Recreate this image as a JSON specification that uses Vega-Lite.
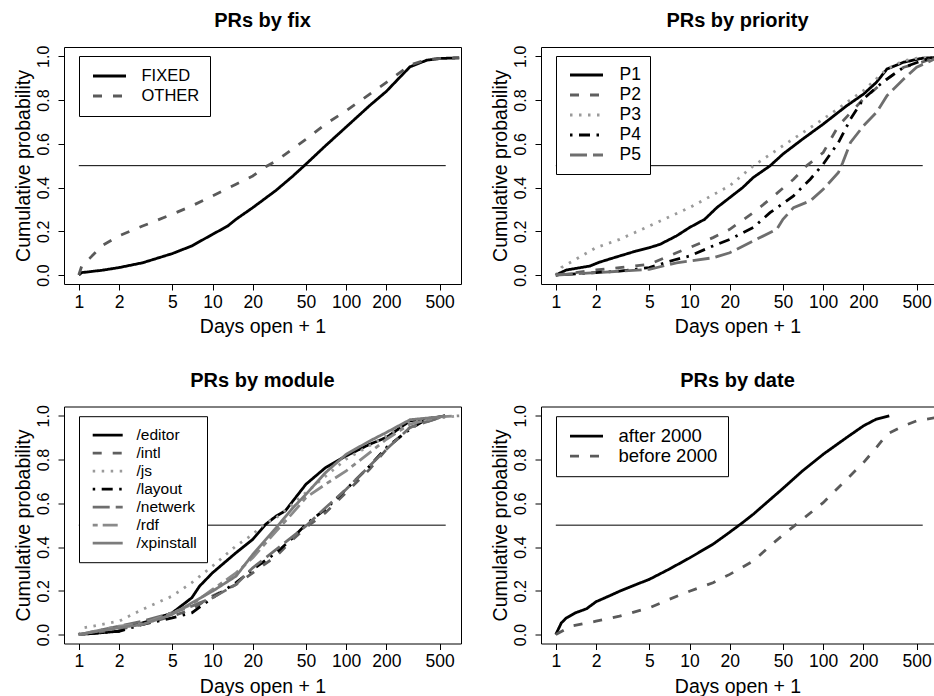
{
  "$schema": "https://vega.github.io/schema/vega-lite/v6.json",
  "padding": {"left": 12, "top": 10, "right": 0, "bottom": 0},
  "background": "white",
  "columns": 2,
  "spacing": {"row": 122.5, "column": 80},
  "bounds": "flush",
  "resolve": {
    "scale": {"x": "independent", "y": "independent", "color": "independent", "strokeDash": "independent"},
    "axis": {"x": "independent", "y": "independent"},
    "legend": {"color": "independent", "strokeDash": "independent"}
  },
  "datasets": {
    "fix": [
      {"g":"FIXED","d":1,"p":0},{"g":"FIXED","d":1.05,"p":0.011},{"g":"FIXED","d":1.5,"p":0.022},{"g":"FIXED","d":2,"p":0.034},{"g":"FIXED","d":3,"p":0.056},{"g":"FIXED","d":5,"p":0.098},{"g":"FIXED","d":7,"p":0.133},{"g":"FIXED","d":10,"p":0.186},{"g":"FIXED","d":13,"p":0.224},{"g":"FIXED","d":15,"p":0.255},{"g":"FIXED","d":20,"p":0.308},{"g":"FIXED","d":30,"p":0.388},{"g":"FIXED","d":40,"p":0.453},{"g":"FIXED","d":50,"p":0.507},{"g":"FIXED","d":70,"p":0.591},{"g":"FIXED","d":100,"p":0.677},{"g":"FIXED","d":150,"p":0.775},{"g":"FIXED","d":200,"p":0.84},{"g":"FIXED","d":250,"p":0.902},{"g":"FIXED","d":300,"p":0.952},{"g":"FIXED","d":400,"p":0.982},{"g":"FIXED","d":500,"p":0.99},{"g":"FIXED","d":700,"p":0.993},
      {"g":"OTHER","d":1,"p":0},{"g":"OTHER","d":1.05,"p":0.04},{"g":"OTHER","d":1.2,"p":0.075},{"g":"OTHER","d":1.5,"p":0.135},{"g":"OTHER","d":2,"p":0.179},{"g":"OTHER","d":3,"p":0.224},{"g":"OTHER","d":5,"p":0.278},{"g":"OTHER","d":7,"p":0.316},{"g":"OTHER","d":10,"p":0.362},{"g":"OTHER","d":15,"p":0.415},{"g":"OTHER","d":20,"p":0.453},{"g":"OTHER","d":25,"p":0.495},{"g":"OTHER","d":30,"p":0.522},{"g":"OTHER","d":50,"p":0.621},{"g":"OTHER","d":70,"p":0.69},{"g":"OTHER","d":100,"p":0.751},{"g":"OTHER","d":150,"p":0.827},{"g":"OTHER","d":200,"p":0.881},{"g":"OTHER","d":300,"p":0.96},{"g":"OTHER","d":400,"p":0.985},{"g":"OTHER","d":500,"p":0.99},{"g":"OTHER","d":700,"p":0.993},
      {"g":"ref","d":1,"d2":555,"p":0.5}
    ],
    "priority": [
      {"g":"P1","d":1,"p":0},{"g":"P1","d":1.2,"p":0.023},{"g":"P1","d":1.8,"p":0.041},{"g":"P1","d":2.1,"p":0.058},{"g":"P1","d":3,"p":0.087},{"g":"P1","d":4,"p":0.11},{"g":"P1","d":5,"p":0.125},{"g":"P1","d":6,"p":0.14},{"g":"P1","d":8,"p":0.179},{"g":"P1","d":10,"p":0.217},{"g":"P1","d":13,"p":0.255},{"g":"P1","d":16,"p":0.308},{"g":"P1","d":20,"p":0.354},{"g":"P1","d":25,"p":0.4},{"g":"P1","d":30,"p":0.446},{"g":"P1","d":40,"p":0.499},{"g":"P1","d":50,"p":0.553},{"g":"P1","d":70,"p":0.621},{"g":"P1","d":100,"p":0.69},{"g":"P1","d":150,"p":0.774},{"g":"P1","d":200,"p":0.827},{"g":"P1","d":250,"p":0.881},{"g":"P1","d":300,"p":0.942},{"g":"P1","d":400,"p":0.973},{"g":"P1","d":550,"p":0.991},{"g":"P1","d":700,"p":0.995},
      {"g":"P2","d":1,"p":0},{"g":"P2","d":2,"p":0.023},{"g":"P2","d":3,"p":0.034},{"g":"P2","d":5,"p":0.049},{"g":"P2","d":8,"p":0.102},{"g":"P2","d":10,"p":0.125},{"g":"P2","d":15,"p":0.171},{"g":"P2","d":20,"p":0.209},{"g":"P2","d":30,"p":0.285},{"g":"P2","d":40,"p":0.347},{"g":"P2","d":60,"p":0.438},{"g":"P2","d":75,"p":0.499},{"g":"P2","d":100,"p":0.56},{"g":"P2","d":130,"p":0.682},{"g":"P2","d":170,"p":0.759},{"g":"P2","d":200,"p":0.805},{"g":"P2","d":300,"p":0.896},{"g":"P2","d":400,"p":0.95},{"g":"P2","d":500,"p":0.965},{"g":"P2","d":700,"p":0.995},
      {"g":"P3","d":1,"p":0},{"g":"P3","d":1.1,"p":0.034},{"g":"P3","d":2,"p":0.125},{"g":"P3","d":3,"p":0.163},{"g":"P3","d":5,"p":0.224},{"g":"P3","d":10,"p":0.308},{"g":"P3","d":20,"p":0.408},{"g":"P3","d":30,"p":0.499},{"g":"P3","d":50,"p":0.591},{"g":"P3","d":100,"p":0.713},{"g":"P3","d":200,"p":0.843},{"g":"P3","d":300,"p":0.942},{"g":"P3","d":400,"p":0.98},{"g":"P3","d":500,"p":0.991},{"g":"P3","d":700,"p":0.995},
      {"g":"P4","d":1,"p":0},{"g":"P4","d":2,"p":0.011},{"g":"P4","d":3,"p":0.018},{"g":"P4","d":5,"p":0.034},{"g":"P4","d":8,"p":0.072},{"g":"P4","d":10,"p":0.087},{"g":"P4","d":15,"p":0.133},{"g":"P4","d":20,"p":0.163},{"g":"P4","d":30,"p":0.217},{"g":"P4","d":40,"p":0.285},{"g":"P4","d":60,"p":0.362},{"g":"P4","d":80,"p":0.438},{"g":"P4","d":100,"p":0.507},{"g":"P4","d":130,"p":0.606},{"g":"P4","d":160,"p":0.713},{"g":"P4","d":200,"p":0.805},{"g":"P4","d":250,"p":0.858},{"g":"P4","d":300,"p":0.896},{"g":"P4","d":400,"p":0.95},{"g":"P4","d":600,"p":0.988},{"g":"P4","d":700,"p":0.995},
      {"g":"P5","d":1,"p":0},{"g":"P5","d":2,"p":0.011},{"g":"P5","d":5,"p":0.026},{"g":"P5","d":8,"p":0.056},{"g":"P5","d":10,"p":0.064},{"g":"P5","d":15,"p":0.079},{"g":"P5","d":20,"p":0.102},{"g":"P5","d":30,"p":0.156},{"g":"P5","d":45,"p":0.209},{"g":"P5","d":50,"p":0.255},{"g":"P5","d":60,"p":0.308},{"g":"P5","d":80,"p":0.339},{"g":"P5","d":100,"p":0.392},{"g":"P5","d":130,"p":0.469},{"g":"P5","d":140,"p":0.514},{"g":"P5","d":160,"p":0.606},{"g":"P5","d":200,"p":0.682},{"g":"P5","d":250,"p":0.743},{"g":"P5","d":300,"p":0.82},{"g":"P5","d":400,"p":0.896},{"g":"P5","d":500,"p":0.95},{"g":"P5","d":700,"p":0.991},
      {"g":"ref","d":1,"d2":555,"p":0.5}
    ],
    "module": [
      {"g":"/editor","d":1,"p":0},{"g":"/editor","d":2,"p":0.015},{"g":"/editor","d":2.2,"p":0.038},{"g":"/editor","d":3,"p":0.053},{"g":"/editor","d":5,"p":0.099},{"g":"/editor","d":7,"p":0.168},{"g":"/editor","d":8,"p":0.221},{"g":"/editor","d":10,"p":0.282},{"g":"/editor","d":15,"p":0.374},{"g":"/editor","d":20,"p":0.435},{"g":"/editor","d":25,"p":0.504},{"g":"/editor","d":30,"p":0.542},{"g":"/editor","d":35,"p":0.565},{"g":"/editor","d":40,"p":0.611},{"g":"/editor","d":50,"p":0.687},{"g":"/editor","d":70,"p":0.763},{"g":"/editor","d":100,"p":0.817},{"g":"/editor","d":150,"p":0.87},{"g":"/editor","d":200,"p":0.901},{"g":"/editor","d":300,"p":0.977},{"g":"/editor","d":500,"p":0.995},{"g":"/editor","d":550,"p":1},
      {"g":"/intl","d":1,"p":0},{"g":"/intl","d":2,"p":0.023},{"g":"/intl","d":3,"p":0.046},{"g":"/intl","d":5,"p":0.084},{"g":"/intl","d":7,"p":0.115},{"g":"/intl","d":10,"p":0.176},{"g":"/intl","d":15,"p":0.229},{"g":"/intl","d":20,"p":0.282},{"g":"/intl","d":30,"p":0.359},{"g":"/intl","d":40,"p":0.435},{"g":"/intl","d":50,"p":0.489},{"g":"/intl","d":70,"p":0.557},{"g":"/intl","d":100,"p":0.649},{"g":"/intl","d":150,"p":0.756},{"g":"/intl","d":200,"p":0.847},{"g":"/intl","d":300,"p":0.947},{"g":"/intl","d":500,"p":0.992},{"g":"/intl","d":550,"p":1},
      {"g":"/js","d":1,"p":0},{"g":"/js","d":1.1,"p":0.031},{"g":"/js","d":2,"p":0.061},{"g":"/js","d":3,"p":0.115},{"g":"/js","d":5,"p":0.176},{"g":"/js","d":7,"p":0.237},{"g":"/js","d":10,"p":0.313},{"g":"/js","d":15,"p":0.405},{"g":"/js","d":20,"p":0.458},{"g":"/js","d":25,"p":0.511},{"g":"/js","d":30,"p":0.534},{"g":"/js","d":50,"p":0.649},{"g":"/js","d":100,"p":0.802},{"g":"/js","d":200,"p":0.908},{"g":"/js","d":300,"p":0.977},{"g":"/js","d":700,"p":1},
      {"g":"/layout","d":1,"p":0},{"g":"/layout","d":2,"p":0.015},{"g":"/layout","d":3,"p":0.046},{"g":"/layout","d":5,"p":0.076},{"g":"/layout","d":7,"p":0.099},{"g":"/layout","d":10,"p":0.168},{"g":"/layout","d":15,"p":0.237},{"g":"/layout","d":20,"p":0.298},{"g":"/layout","d":30,"p":0.374},{"g":"/layout","d":40,"p":0.443},{"g":"/layout","d":50,"p":0.504},{"g":"/layout","d":70,"p":0.573},{"g":"/layout","d":100,"p":0.664},{"g":"/layout","d":150,"p":0.771},{"g":"/layout","d":200,"p":0.855},{"g":"/layout","d":250,"p":0.901},{"g":"/layout","d":300,"p":0.939},{"g":"/layout","d":400,"p":0.985},{"g":"/layout","d":550,"p":1},
      {"g":"/netwerk","d":1,"p":0},{"g":"/netwerk","d":2,"p":0.038},{"g":"/netwerk","d":3,"p":0.061},{"g":"/netwerk","d":5,"p":0.099},{"g":"/netwerk","d":7,"p":0.13},{"g":"/netwerk","d":10,"p":0.168},{"g":"/netwerk","d":15,"p":0.229},{"g":"/netwerk","d":20,"p":0.305},{"g":"/netwerk","d":30,"p":0.389},{"g":"/netwerk","d":50,"p":0.496},{"g":"/netwerk","d":70,"p":0.58},{"g":"/netwerk","d":100,"p":0.664},{"g":"/netwerk","d":150,"p":0.771},{"g":"/netwerk","d":200,"p":0.847},{"g":"/netwerk","d":300,"p":0.947},{"g":"/netwerk","d":500,"p":0.992},{"g":"/netwerk","d":550,"p":1},
      {"g":"/rdf","d":1,"p":0},{"g":"/rdf","d":2,"p":0.038},{"g":"/rdf","d":3,"p":0.05},{"g":"/rdf","d":5,"p":0.099},{"g":"/rdf","d":7,"p":0.137},{"g":"/rdf","d":10,"p":0.206},{"g":"/rdf","d":15,"p":0.282},{"g":"/rdf","d":20,"p":0.351},{"g":"/rdf","d":30,"p":0.473},{"g":"/rdf","d":40,"p":0.557},{"g":"/rdf","d":50,"p":0.626},{"g":"/rdf","d":70,"p":0.687},{"g":"/rdf","d":100,"p":0.748},{"g":"/rdf","d":150,"p":0.832},{"g":"/rdf","d":200,"p":0.893},{"g":"/rdf","d":300,"p":0.962},{"g":"/rdf","d":500,"p":0.995},{"g":"/rdf","d":700,"p":1},
      {"g":"/xpinstall","d":1,"p":0},{"g":"/xpinstall","d":2,"p":0.031},{"g":"/xpinstall","d":3,"p":0.046},{"g":"/xpinstall","d":5,"p":0.092},{"g":"/xpinstall","d":7,"p":0.145},{"g":"/xpinstall","d":10,"p":0.198},{"g":"/xpinstall","d":15,"p":0.267},{"g":"/xpinstall","d":20,"p":0.366},{"g":"/xpinstall","d":30,"p":0.489},{"g":"/xpinstall","d":40,"p":0.58},{"g":"/xpinstall","d":50,"p":0.641},{"g":"/xpinstall","d":70,"p":0.74},{"g":"/xpinstall","d":100,"p":0.824},{"g":"/xpinstall","d":150,"p":0.885},{"g":"/xpinstall","d":200,"p":0.924},{"g":"/xpinstall","d":300,"p":0.982},{"g":"/xpinstall","d":500,"p":0.995},{"g":"/xpinstall","d":550,"p":1},
      {"g":"ref","d":1,"d2":555,"p":0.5}
    ],
    "date": [
      {"g":"after 2000","d":1,"p":0},{"g":"after 2000","d":1.1,"p":0.053},{"g":"after 2000","d":1.2,"p":0.076},{"g":"after 2000","d":1.4,"p":0.099},{"g":"after 2000","d":1.7,"p":0.118},{"g":"after 2000","d":2,"p":0.15},{"g":"after 2000","d":2.5,"p":0.176},{"g":"after 2000","d":3,"p":0.198},{"g":"after 2000","d":4,"p":0.229},{"g":"after 2000","d":5,"p":0.252},{"g":"after 2000","d":7,"p":0.298},{"g":"after 2000","d":10,"p":0.35},{"g":"after 2000","d":15,"p":0.413},{"g":"after 2000","d":20,"p":0.468},{"g":"after 2000","d":25,"p":0.512},{"g":"after 2000","d":30,"p":0.55},{"g":"after 2000","d":50,"p":0.668},{"g":"after 2000","d":70,"p":0.748},{"g":"after 2000","d":100,"p":0.824},{"g":"after 2000","d":150,"p":0.901},{"g":"after 2000","d":200,"p":0.954},{"g":"after 2000","d":250,"p":0.985},{"g":"after 2000","d":312,"p":1},
      {"g":"before 2000","d":1,"p":0},{"g":"before 2000","d":1.3,"p":0.038},{"g":"before 2000","d":2,"p":0.061},{"g":"before 2000","d":3,"p":0.084},{"g":"before 2000","d":5,"p":0.122},{"g":"before 2000","d":7,"p":0.16},{"g":"before 2000","d":10,"p":0.198},{"g":"before 2000","d":15,"p":0.237},{"g":"before 2000","d":20,"p":0.275},{"g":"before 2000","d":30,"p":0.336},{"g":"before 2000","d":40,"p":0.405},{"g":"before 2000","d":50,"p":0.455},{"g":"before 2000","d":70,"p":0.527},{"g":"before 2000","d":100,"p":0.603},{"g":"before 2000","d":150,"p":0.71},{"g":"before 2000","d":200,"p":0.786},{"g":"before 2000","d":250,"p":0.855},{"g":"before 2000","d":300,"p":0.916},{"g":"before 2000","d":400,"p":0.954},{"g":"before 2000","d":500,"p":0.977},{"g":"before 2000","d":700,"p":0.992},
      {"g":"ref","d":1,"d2":555,"p":0.5}
    ]
  },
  "concat": [
    {
      "title": "PRs by fix",
      "width": 397, "height": 237,
      "data": {"name": "fix"},
      "encoding": {
        "x": {"field": "d", "type": "quantitative", "scale": {"type": "log", "domain": [0.775, 722], "nice": false}, "axis": {"title": "Days open + 1", "values": [1,2,5,10,20,50,100,200,500], "format": "d"}},
        "y": {"field": "p", "type": "quantitative", "scale": {"domain": [-0.041, 1.0425], "nice": false, "zero": false}, "axis": {"title": "Cumulative probability", "values": [0,0.2,0.4,0.6,0.8,1], "format": ".1f"}}
      },
      "layer": [
        {"transform": [{"filter": "datum.g === 'ref'"}], "mark": {"type": "rule", "color": "black", "strokeWidth": 1}, "encoding": {"x2": {"field": "d2"}}},
        {"transform": [{"filter": "datum.g !== 'ref'"}], "mark": {"type": "line", "strokeWidth": 2.8, "clip": true, "strokeCap": "butt"},
          "encoding": {
            "color": {"field": "g", "type": "nominal", "scale": {"domain": ["FIXED","OTHER"], "range": ["#000000","#5a5a5a"]},
              "legend": {"title": null, "orient": "none", "legendX": 15, "legendY": 9, "strokeColor": "black", "fillColor": "white", "padding": 10, "symbolType": "stroke", "symbolSize": 1089, "symbolStrokeWidth": 2.8, "symbolOffset": 2.5, "labelOffset": 14, "labelFontSize": 16.5, "labelColor": "black", "labelFont": "Liberation Sans", "clipHeight": 20, "rowPadding": 0, "labelLimit": 400}},
            "strokeDash": {"field": "g", "type": "nominal", "scale": {"domain": ["FIXED","OTHER"], "range": [[1,0],[9,11]]}}
          }}
      ]
    },
    {
      "title": "PRs by priority",
      "width": 393, "height": 237,
      "data": {"name": "priority"},
      "encoding": {
        "x": {"field": "d", "type": "quantitative", "scale": {"type": "log", "domain": [0.775, 674], "nice": false}, "axis": {"title": "Days open + 1", "values": [1,2,5,10,20,50,100,200,500], "format": "d"}},
        "y": {"field": "p", "type": "quantitative", "scale": {"domain": [-0.041, 1.0425], "nice": false, "zero": false}, "axis": {"title": "Cumulative probability", "values": [0,0.2,0.4,0.6,0.8,1], "format": ".1f"}}
      },
      "layer": [
        {"transform": [{"filter": "datum.g === 'ref'"}], "mark": {"type": "rule", "color": "black", "strokeWidth": 1}, "encoding": {"x2": {"field": "d2"}}},
        {"transform": [{"filter": "datum.g !== 'ref'"}], "mark": {"type": "line", "strokeWidth": 2.8, "clip": true, "strokeCap": "butt"},
          "encoding": {
            "color": {"field": "g", "type": "nominal", "scale": {"domain": ["P1","P2","P3","P4","P5"], "range": ["#000000","#5f5f5f","#9a9a9a","#000000","#6e6e6e"]},
              "legend": {"title": null, "orient": "none", "legendX": 15, "legendY": 9, "strokeColor": "black", "fillColor": "white", "padding": 9, "symbolType": "stroke", "symbolSize": 1089, "symbolStrokeWidth": 2.8, "symbolOffset": 3.5, "labelOffset": 15, "labelFontSize": 17.5, "labelColor": "black", "labelFont": "Liberation Sans", "clipHeight": 20, "rowPadding": 0, "labelLimit": 400}},
            "strokeDash": {"field": "g", "type": "nominal", "scale": {"domain": ["P1","P2","P3","P4","P5"], "range": [[1,0],[9,11],[2.5,6.5],[2.5,6.5,11,6.5],[17,6]]}}
          }}
      ]
    },
    {
      "title": "PRs by module",
      "width": 397, "height": 237,
      "data": {"name": "module"},
      "encoding": {
        "x": {"field": "d", "type": "quantitative", "scale": {"type": "log", "domain": [0.775, 722], "nice": false}, "axis": {"title": "Days open + 1", "values": [1,2,5,10,20,50,100,200,500], "format": "d"}},
        "y": {"field": "p", "type": "quantitative", "scale": {"domain": [-0.041, 1.0425], "nice": false, "zero": false}, "axis": {"title": "Cumulative probability", "values": [0,0.2,0.4,0.6,0.8,1], "format": ".1f"}}
      },
      "layer": [
        {"transform": [{"filter": "datum.g === 'ref'"}], "mark": {"type": "rule", "color": "black", "strokeWidth": 1}, "encoding": {"x2": {"field": "d2"}}},
        {"transform": [{"filter": "datum.g !== 'ref'"}], "mark": {"type": "line", "strokeWidth": 2.8, "clip": true, "strokeCap": "butt"},
          "encoding": {
            "color": {"field": "g", "type": "nominal", "scale": {"domain": ["/editor","/intl","/js","/layout","/netwerk","/rdf","/xpinstall"], "range": ["#000000","#5f5f5f","#9a9a9a","#000000","#6e6e6e","#8a8a8a","#7c7c7c"]},
              "legend": {"title": null, "orient": "none", "legendX": 15, "legendY": 9.7, "strokeColor": "black", "fillColor": "white", "padding": 10, "symbolType": "stroke", "symbolSize": 900, "symbolStrokeWidth": 2.8, "symbolOffset": 2.2, "labelOffset": 12.3, "labelFontSize": 15.5, "labelColor": "black", "labelFont": "Liberation Sans", "clipHeight": 18, "rowPadding": 0, "labelLimit": 400}},
            "strokeDash": {"field": "g", "type": "nominal", "scale": {"domain": ["/editor","/intl","/js","/layout","/netwerk","/rdf","/xpinstall"], "range": [[1,0],[9,11],[2.5,6.5],[2.5,6.5,11,6.5],[17,6],[5,5,15,5],[1,0]]}}
          }}
      ]
    },
    {
      "title": "PRs by date",
      "width": 393, "height": 237,
      "data": {"name": "date"},
      "encoding": {
        "x": {"field": "d", "type": "quantitative", "scale": {"type": "log", "domain": [0.775, 674], "nice": false}, "axis": {"title": "Days open + 1", "values": [1,2,5,10,20,50,100,200,500], "format": "d"}},
        "y": {"field": "p", "type": "quantitative", "scale": {"domain": [-0.041, 1.0425], "nice": false, "zero": false}, "axis": {"title": "Cumulative probability", "values": [0,0.2,0.4,0.6,0.8,1], "format": ".1f"}}
      },
      "layer": [
        {"transform": [{"filter": "datum.g === 'ref'"}], "mark": {"type": "rule", "color": "black", "strokeWidth": 1}, "encoding": {"x2": {"field": "d2"}}},
        {"transform": [{"filter": "datum.g !== 'ref'"}], "mark": {"type": "line", "strokeWidth": 2.8, "clip": true, "strokeCap": "butt"},
          "encoding": {
            "color": {"field": "g", "type": "nominal", "scale": {"domain": ["after 2000","before 2000"], "range": ["#000000","#5a5a5a"]},
              "legend": {"title": null, "orient": "none", "legendX": 15, "legendY": 9.7, "strokeColor": "black", "fillColor": "white", "padding": 10, "symbolType": "stroke", "symbolSize": 1089, "symbolStrokeWidth": 2.8, "symbolOffset": 2.5, "labelOffset": 14, "labelFontSize": 18.5, "labelColor": "black", "labelFont": "Liberation Sans", "clipHeight": 20, "rowPadding": 0, "labelLimit": 400}},
            "strokeDash": {"field": "g", "type": "nominal", "scale": {"domain": ["after 2000","before 2000"], "range": [[1,0],[9,11]]}}
          }}
      ]
    }
  ],
  "config": {
    "font": "Liberation Sans",
    "view": {"stroke": "black", "strokeWidth": 1},
    "axis": {"domain": false, "grid": false, "tickColor": "black", "tickWidth": 1, "tickSize": 6, "labelColor": "black", "labelFont": "Liberation Sans", "titleFont": "Liberation Sans", "titleColor": "black", "titleFontWeight": "normal", "titleFontSize": 19.5, "labelOverlap": false, "labelFlush": false},
    "axisX": {"labelFontSize": 17.5, "labelPadding": 3, "titlePadding": 7},
    "axisY": {"labelFontSize": 16, "labelAngle": 270, "labelAlign": "center", "labelBaseline": "alphabetic", "labelPadding": 10, "titlePadding": 2},
    "title": {"fontSize": 20, "fontWeight": "bold", "font": "Liberation Sans", "color": "black", "anchor": "middle", "frame": "group", "offset": 14, "baseline": "alphabetic"}
  }
}
